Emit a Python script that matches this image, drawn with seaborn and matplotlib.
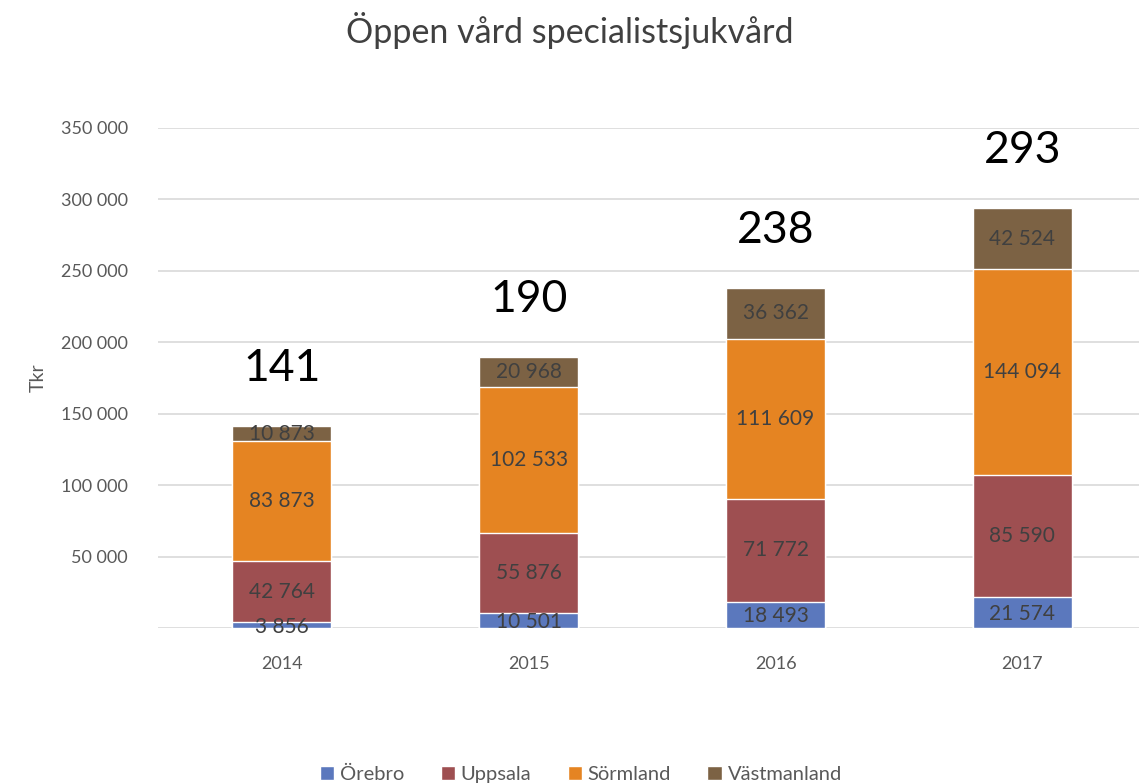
import numpy as np
import pandas as pd
import matplotlib
matplotlib.use("Agg")
import matplotlib.pyplot as plt
import seaborn as sns

years = ["2014", "2015", "2016", "2017"]
regions = ["Örebro", "Uppsala", "Sörmland", "Västmanland"]
orebro = [3856, 10501, 18493, 21574]
uppsala = [42764, 55876, 71772, 85590]
sormland = [83873, 102533, 111609, 144094]
vastmanland = [10873, 20968, 36362, 42524]
total_labels = ["141", "190", "238", "293"]

colors = ["#5B78BD", "#9E4F51", "#E58422", "#7C6244"]
text_grey = "#595959"

sns.set_style("white")
plt.rcParams["font.family"] = ["Lato", "DejaVu Sans"]

series = [orebro, uppsala, sormland, vastmanland]
cum = np.cumsum(np.array(series), axis=0)

fig = plt.figure(figsize=(11.39, 7.84), dpi=100)
ax = fig.add_axes([0.139, 0.199, 0.867, 0.638])

# draw cumulative bars from top layer down so each shows its own segment
for i in range(len(regions) - 1, -1, -1):
    df = pd.DataFrame({"year": years, "value": cum[i]})
    sns.barplot(data=df, x="year", y="value", color=colors[i], width=0.4,
                saturation=1, ax=ax, zorder=2, label=regions[i])

for i, vals in enumerate(series):
    bottoms = cum[i] - np.array(vals)
    for j, v in enumerate(vals):
        y = bottoms[j] + v / 2
        if i == 0:
            y = bottoms[j] + v / 2 - 1000
        ax.text(j, y, f"{v:,}".replace(",", " "), ha="center", va="center",
                fontsize=15, color="#404040", zorder=3)

for j, t in enumerate(total_labels):
    ax.text(j, cum[-1][j] + 40000, t, ha="center", va="center",
            fontsize=32, color="black")

ax.set_ylim(0, 350000)
ax.set_xlim(-0.5, 3.5)
ticks = np.arange(0, 350001, 50000)
ax.set_yticks(ticks)
ax.set_yticklabels([""] + [f"{t:,}".replace(",", " ") for t in ticks[1:]])
ax.grid(axis="y", color="#D9D9D9", linewidth=1.2, zorder=0)
ax.set_axisbelow(True)
for s in ax.spines.values():
    s.set_visible(False)
ax.tick_params(axis="both", length=0, labelsize=13, colors=text_grey)
ax.tick_params(axis="x", pad=20)
ax.tick_params(axis="y", pad=22)
ax.set_xlabel("")
ax.set_ylabel("Tkr", fontsize=14, color=text_grey, labelpad=10)

fig.suptitle("Öppen vård specialistsjukvård", fontsize=24.5, color="#404040", y=0.985)

handles, labels = ax.get_legend_handles_labels()
ax.get_legend().remove()
order = [labels.index(r) for r in regions]
leg = fig.legend([handles[k] for k in order], regions, loc="lower center",
                 bbox_to_anchor=(0.51, -0.022), ncol=4, frameon=False,
                 fontsize=14.5, handlelength=0.7, handleheight=0.7,
                 handletextpad=0.3, columnspacing=1.8)
for t in leg.get_texts():
    t.set_color(text_grey)

fig.savefig("out.png", dpi=100)
